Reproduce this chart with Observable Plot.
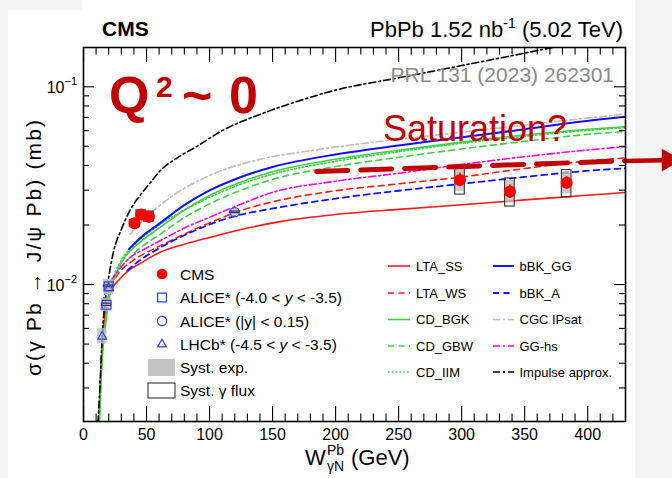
<!DOCTYPE html>
<html>
<head>
<meta charset="utf-8">
<script src="https://cdn.jsdelivr.net/npm/d3@7"></script>
<script src="https://cdn.jsdelivr.net/npm/@observablehq/plot@0.6"></script>
<style>
  html, body { margin: 0; padding: 0; background: #f4f4f4; }
  #page { position: relative; width: 672px; height: 478px; overflow: hidden; }
  .sheet { position: absolute; background: #ffffff; }
  #chart { position: absolute; left: 0; top: 0; }
</style>
</head>
<body>
<div id="page">
  <div class="sheet" style="left:8px;top:10px;width:627px;height:468px"></div>
  <div class="sheet" style="left:82px;top:0;width:553px;height:10px"></div>
  <div id="chart"></div>
</div>
<script>
const FONT = "'Liberation Sans', Arial, Helvetica, sans-serif";
const DARK_RED = "#c00000";

// ---- axis ticks ----
const xTickLabels = [0, 50, 100, 150, 200, 250, 300, 350, 400];
const xMinorTicks = [10,20,30,40,60,70,80,90,110,120,130,140,160,170,180,190,210,220,230,240,260,270,280,290,310,320,330,340,360,370,380,390,410,420];
const yTickLabels = [0.01, 0.1];
const yTickExponents = ["\u22122", "\u22121"];
const yMinorTicks = [0.003,0.004,0.005,0.006,0.007,0.008,0.009,0.02,0.03,0.04,0.05,0.06,0.07,0.08,0.09];

// ---- CMS measurement (sigma in mb) ----
const cmsW      = [40.5, 45.8, 51.9, 298.7, 338.3, 383.3];
const cmsSigma  = [0.0204, 0.0226, 0.0220, 0.0338, 0.0295, 0.0327];
const cmsStatLo = [0.0199, 0.0221, 0.0215, 0.0312, 0.0272, 0.0303];
const cmsStatHi = [0.0209, 0.0231, 0.0225, 0.0366, 0.0320, 0.0352];
const cmsExpLo  = [0.0192, 0.0213, 0.0207, 0.0296, 0.0258, 0.0287];
const cmsExpHi  = [0.0216, 0.0240, 0.0233, 0.0382, 0.0336, 0.0370];
const cmsFluxLo = [0.0196, 0.0215, 0.0208, 0.0285, 0.0248, 0.0276];
const cmsFluxHi = [0.0212, 0.0237, 0.0234, 0.0390, 0.0344, 0.0379];

// ---- ALICE forward, ALICE central, LHCb ----
const aliceFwdW = [18.3, 19.9];
const aliceFwdSigma = [0.0079, 0.0098];
const aliceFwdExpLo = [0.0073, 0.0090];
const aliceFwdExpHi = [0.0085, 0.0106];
const aliceFwdFluxLo = [0.0078, 0.0097];
const aliceFwdFluxHi = [0.0080, 0.0099];

const aliceCenW = [120.0];
const aliceCenSigma = [0.0232];
const aliceCenExpLo = [0.0222];
const aliceCenExpHi = [0.0242];
const aliceCenFluxLo = [0.0230];
const aliceCenFluxHi = [0.0234];

const lhcbW = [14.8, 20.1];
const lhcbSigma = [0.00546, 0.0096];
const lhcbExpLo = [0.0050, 0.0089];
const lhcbExpHi = [0.0060, 0.0104];

// ---- model curves: W (GeV) and sigma (mb) ----
const ltaSS_W = [12.2, 13.5, 16, 19, 23, 29, 36, 45, 61, 80, 100, 130, 156, 200, 250, 300, 350, 394, 430];
const ltaSS_s = [0.0020, 0.0034, 0.0062, 0.0082, 0.0096, 0.0107, 0.0118, 0.0128, 0.0146, 0.0160, 0.0173, 0.0193, 0.0208, 0.0226, 0.0240, 0.0253, 0.0268, 0.0281, 0.0292];

const ltaWS_W = [12.3, 14, 17, 21, 27, 37, 48, 60, 80, 100, 125, 150, 200, 250, 300, 350, 402, 430];
const ltaWS_s = [0.0020, 0.0038, 0.0068, 0.0093, 0.0112, 0.0129, 0.0143, 0.0156, 0.0180, 0.0205, 0.0237, 0.0262, 0.0298, 0.0323, 0.0350, 0.0386, 0.0423, 0.0437];

const cdBGK_W = [12.5, 14, 17.5, 21, 25, 32, 43, 61, 80, 100, 125, 150, 200, 250, 300, 350, 394, 430];
const cdBGK_s = [0.0020, 0.0035, 0.0063, 0.0090, 0.0110, 0.0135, 0.0160, 0.0195, 0.0238, 0.0282, 0.0330, 0.0372, 0.0430, 0.0478, 0.0525, 0.0570, 0.0605, 0.0628];

const cdGBW_W = [12.4, 14, 17.5, 21, 26, 35, 45, 61, 80, 100, 125, 150, 200, 250, 300, 350, 394, 430];
const cdGBW_s = [0.0020, 0.0036, 0.0066, 0.0092, 0.0112, 0.0133, 0.0153, 0.0180, 0.0218, 0.0256, 0.0300, 0.0340, 0.0395, 0.0440, 0.0485, 0.0530, 0.0570, 0.0594];

const cdIIM_W = [12.8, 14.5, 18, 22, 30, 40, 58, 80, 100, 125, 150, 200, 250, 300, 350, 394, 430];
const cdIIM_s = [0.0020, 0.0038, 0.0068, 0.0098, 0.0132, 0.0158, 0.0196, 0.0238, 0.0276, 0.0322, 0.0362, 0.0420, 0.0470, 0.0518, 0.0562, 0.0598, 0.0622];

const bbkGG_W = [36, 45, 61, 80, 100, 125, 150, 200, 250, 300, 350, 394, 430];
const bbkGG_s = [0.0151, 0.0172, 0.0205, 0.0252, 0.0299, 0.0350, 0.0393, 0.0455, 0.0505, 0.0555, 0.0610, 0.0665, 0.0705];

const bbkA_W = [34.7, 45, 61, 88, 120, 148, 200, 250, 300, 350, 402, 430];
const bbkA_s = [0.0118, 0.0133, 0.0154, 0.0187, 0.0222, 0.0241, 0.0272, 0.0298, 0.0323, 0.0350, 0.0377, 0.0387];

const cgc_W = [37, 45, 69, 100, 140, 180, 220, 275, 340, 394, 430];
const cgc_s = [0.0180, 0.0205, 0.0276, 0.0356, 0.0430, 0.0475, 0.0515, 0.0565, 0.0630, 0.0688, 0.0728];

const gghs_W = [14, 17, 20, 25, 37, 50, 61, 80, 100, 125, 148, 200, 254, 300, 350, 394, 430];
const gghs_s = [0.0075, 0.0090, 0.0100, 0.0112, 0.0137, 0.0153, 0.0167, 0.0193, 0.0219, 0.0255, 0.0290, 0.0333, 0.0368, 0.0405, 0.0443, 0.0475, 0.0498];

const impulse_W = [11.5, 13, 15, 17.5, 20.5, 24, 30, 37, 45, 53, 61, 75, 90, 110, 140, 170, 200, 250, 300, 350, 380];
const impulse_s = [0.0020, 0.0030, 0.0057, 0.0085, 0.0114, 0.0148, 0.0190, 0.0238, 0.0283, 0.0327, 0.0377, 0.0440, 0.0500, 0.0600, 0.0725, 0.0845, 0.0962, 0.1110, 0.1280, 0.1480, 0.1620];

// ---- "Saturation?" trend annotation ----
const satW = [185, 430];
const satSigma = [0.0373, 0.0422];
const satArrowW = [430, 459];
const satArrowSigma = [0.0422, 0.0425];
const satHeadW = [464];
const satHeadSigma = [0.0426];

// ---- build tables ----
const pts = (Ws, Ss) => Ws.map((W, i) => ({W, s: Ss[i]}));
const rows = (Ws, S, lo, hi, flo, fhi, slo, shi) => Ws.map((W, i) => ({
  W, s: S[i], expLo: lo[i], expHi: hi[i],
  fluxLo: flo ? flo[i] : null, fluxHi: fhi ? fhi[i] : null,
  statLo: slo ? slo[i] : null, statHi: shi ? shi[i] : null
}));
const cms = rows(cmsW, cmsSigma, cmsExpLo, cmsExpHi, cmsFluxLo, cmsFluxHi, cmsStatLo, cmsStatHi);
const aliceFwd = rows(aliceFwdW, aliceFwdSigma, aliceFwdExpLo, aliceFwdExpHi, aliceFwdFluxLo, aliceFwdFluxHi);
const aliceCen = rows(aliceCenW, aliceCenSigma, aliceCenExpLo, aliceCenExpHi, aliceCenFluxLo, aliceCenFluxHi);
const lhcb = rows(lhcbW, lhcbSigma, lhcbExpLo, lhcbExpHi);

const DASH = "6,4.5", DOT = "1.6,2.2", DASHDOT = "7,3,2,3";
const models = [
  {name: "LTA_SS",  W: ltaSS_W, s: ltaSS_s, stroke: "#ff1a1a", dash: null, sw: 1.6},
  {name: "LTA_WS",  W: ltaWS_W, s: ltaWS_s, stroke: "#ff1a1a", dash: DASH, sw: 1.6},
  {name: "CD_BGK",  W: cdBGK_W, s: cdBGK_s, stroke: "#3fcf3f", dash: null, sw: 1.6},
  {name: "CD_GBW",  W: cdGBW_W, s: cdGBW_s, stroke: "#3fcf3f", dash: DASH, sw: 1.6},
  {name: "CD_IIM",  W: cdIIM_W, s: cdIIM_s, stroke: "#3fcf3f", dash: DOT, sw: 1.6},
  {name: "bBK_GG",  W: bbkGG_W, s: bbkGG_s, stroke: "#1010ff", dash: null, sw: 2},
  {name: "bBK_A",   W: bbkA_W,  s: bbkA_s,  stroke: "#1010ff", dash: DASH, sw: 1.8},
  {name: "CGC IPsat", W: cgc_W, s: cgc_s, stroke: "#c9bcb4", dash: DASHDOT, sw: 1.7},
  {name: "GG-hs",   W: gghs_W,  s: gghs_s,  stroke: "#ff00ff", dash: DASHDOT, sw: 1.6},
  {name: "Impulse approx.", W: impulse_W, s: impulse_s, stroke: "#000000", dash: DASHDOT, sw: 1.6}
];

const M = {top: 47, right: 47, bottom: 57, left: 83};
const WIDTH = 672, HEIGHT = 478;
const innerH = HEIGHT - M.top - M.bottom;
const innerW = WIDTH - M.left - M.right;
const boxHalf = 3.8; // half width of uncertainty boxes, GeV

const plot = Plot.plot({
  width: WIDTH, height: HEIGHT,
  marginTop: M.top, marginRight: M.right, marginBottom: M.bottom, marginLeft: M.left,
  style: {background: "transparent", overflow: "visible", fontFamily: FONT},
  x: {domain: [0, 430], axis: null},
  y: {type: "log", domain: [0.00203, 0.158], axis: null},
  marks: [
    ...models.map(m => Plot.line(pts(m.W, m.s), {
      x: "W", y: "s", stroke: m.stroke, strokeWidth: m.sw,
      strokeDasharray: m.dash, curve: "monotone-x", clip: true
    })),
    // experimental systematic boxes
    Plot.rect([...lhcb, ...aliceFwd, ...aliceCen, ...cms], {
      x1: d => d.W - boxHalf, x2: d => d.W + boxHalf, y1: "expLo", y2: "expHi",
      fill: "#bdbdbd", fillOpacity: 0.8
    }),
    // photon flux systematic boxes
    Plot.rect([...aliceFwd, ...aliceCen, ...cms], {
      x1: d => d.W - boxHalf, x2: d => d.W + boxHalf, y1: "fluxLo", y2: "fluxHi",
      fill: "none", stroke: "#333333", strokeWidth: 1.1
    }),
    Plot.ruleX(cms, {x: "W", y1: "statLo", y2: "statHi", stroke: "#ff0000", strokeWidth: 1.5}),
    Plot.dot(aliceFwd, {x: "W", y: "s", symbol: "square", r: 5, fill: "none", stroke: "#2a40ff", strokeWidth: 1.2}),
    Plot.dot(aliceCen, {x: "W", y: "s", symbol: "circle", r: 4.6, fill: "none", stroke: "#2a40ff", strokeWidth: 1.2}),
    Plot.dot(lhcb, {x: "W", y: "s", symbol: "triangle2", r: 4.2, fill: "none", stroke: "#2a40ff", strokeWidth: 1.2}),
    Plot.dot(cms, {x: "W", y: "s", r: 5.3, fill: "#ff0000", stroke: "#ff0000"}),
    // saturation trend
    Plot.line(pts(satW, satSigma), {x: "W", y: "s", stroke: DARK_RED, strokeWidth: 5, strokeDasharray: "31,13"}),
    Plot.line(pts(satArrowW, satArrowSigma), {x: "W", y: "s", stroke: DARK_RED, strokeWidth: 4.5}),
    Plot.dot(pts(satHeadW, satHeadSigma), {x: "W", y: "s", symbol: "triangle", rotate: 90, r: 8.5, fill: DARK_RED}),
    // frame ticks (ROOT style, pointing inwards, on all four sides)
    Plot.tickX(xTickLabels, {x: d => d, insetTop: innerH - 15, stroke: "black", strokeWidth: 1.1}),
    Plot.tickX(xTickLabels, {x: d => d, insetBottom: innerH - 15, stroke: "black", strokeWidth: 1.1}),
    Plot.tickX(xMinorTicks, {x: d => d, insetTop: innerH - 7.5, stroke: "black", strokeWidth: 1.1}),
    Plot.tickX(xMinorTicks, {x: d => d, insetBottom: innerH - 7.5, stroke: "black", strokeWidth: 1.1}),
    Plot.tickY(yTickLabels, {y: d => d, insetRight: innerW - 11, stroke: "black", strokeWidth: 1.1}),
    Plot.tickY(yTickLabels, {y: d => d, insetLeft: innerW - 11, stroke: "black", strokeWidth: 1.1}),
    Plot.tickY(yMinorTicks, {y: d => d, insetRight: innerW - 6, stroke: "black", strokeWidth: 1.1}),
    Plot.tickY(yMinorTicks, {y: d => d, insetLeft: innerW - 6, stroke: "black", strokeWidth: 1.1}),
    Plot.frame({stroke: "black", strokeWidth: 1.6}),
    Plot.text(xTickLabels, {
      x: d => d, text: d => String(d), frameAnchor: "bottom", dy: 7,
      lineAnchor: "top", fontSize: 16, fill: "black"
    })
  ]
});
document.getElementById("chart").appendChild(plot);

// ---- text, legends and labels drawn on top ----
const svg = d3.select(plot);
const g = svg.append("g").attr("font-family", FONT).attr("fill", "black").attr("text-anchor", "start");
const ys = plot.scale("y");

function addText(x, y, str, opt = {}) {
  return g.append("text").attr("x", x).attr("y", y)
    .attr("font-size", opt.size || 16)
    .attr("font-weight", opt.weight || null)
    .attr("fill", opt.fill || "black")
    .attr("text-anchor", opt.anchor || "start")
    .text(str);
}

// y tick labels 10^-2, 10^-1
yTickLabels.forEach((v, i) => {
  const py = ys.apply(v);
  const t = g.append("text").attr("x", 77).attr("y", py + 7).attr("text-anchor", "end").attr("font-size", 16);
  t.append("tspan").text("10");
  t.append("tspan").attr("font-size", 11).attr("dy", -8).text(yTickExponents[i]);
});

// axis titles
{
  g.append("text").attr("transform", "translate(41,248) rotate(-90)")
    .attr("text-anchor", "middle").attr("font-size", 21)
    .attr("textLength", 256).attr("lengthAdjust", "spacing")
    .text("\u03c3(\u03b3 Pb \u2192 J/\u03c8 Pb) (mb)");
  const bx = 305, by = 465;
  addText(bx, by, "W", {size: 22});
  addText(bx + 22, by - 10, "Pb", {size: 14});
  addText(bx + 22, by + 6, "\u03b3N", {size: 14});
  addText(bx + 46, by, "(GeV)", {size: 22});
}

// header
addText(102, 36, "CMS", {size: 21, weight: "bold"});
{
  const t = g.append("text").attr("x", 623).attr("y", 37).attr("text-anchor", "end").attr("font-size", 22);
  t.append("tspan").text("PbPb 1.52 nb");
  t.append("tspan").attr("font-size", 14).attr("dy", -9).text("-1");
  t.append("tspan").attr("dy", 9).text(" (5.02 TeV)");
}
addText(614, 82, "PRL 131 (2023) 262301", {size: 21, fill: "#8a8a8a", anchor: "end"});

// Q^2 ~ 0 and Saturation? annotations
{
  const t = g.append("text").attr("y", 113).attr("font-size", 52).attr("font-weight", "bold").attr("fill", DARK_RED);
  t.append("tspan").attr("x", 109).text("Q");
  t.append("tspan").attr("x", 156).attr("y", 97).attr("font-size", 30).text("2");
  t.append("tspan").attr("x", 182).attr("y", 113).text("~");
  t.append("tspan").attr("x", 229).attr("y", 113).text("0");
}
addText(383, 141, "Saturation?", {size: 36, fill: DARK_RED});

// left legend: data sets
{
  const sx = 162, tx = 180, fs = 15.5;
  const rowsY = [274, 297.5, 321, 344.3, 367.5, 390.5];
  g.append("circle").attr("cx", sx).attr("cy", rowsY[0]).attr("r", 5.3).attr("fill", "#ff0000");
  g.append("path").attr("transform", `translate(${sx},${rowsY[1]})`)
    .attr("d", d3.symbol(d3.symbolSquare, 25 * Math.PI)()).attr("fill", "none").attr("stroke", "#2a40ff").attr("stroke-width", 1.2);
  g.append("circle").attr("cx", sx).attr("cy", rowsY[2]).attr("r", 4.6).attr("fill", "none").attr("stroke", "#2a40ff").attr("stroke-width", 1.2);
  g.append("path").attr("transform", `translate(${sx},${rowsY[3]})`)
    .attr("d", d3.symbol(d3.symbolTriangle2, 4.2 * 4.2 * Math.PI)()).attr("fill", "none").attr("stroke", "#2a40ff").attr("stroke-width", 1.2);
  g.append("rect").attr("x", 148).attr("y", rowsY[4] - 8.5).attr("width", 27).attr("height", 17).attr("fill", "#c4c4c4");
  g.append("rect").attr("x", 148).attr("y", rowsY[5] - 7.5).attr("width", 27).attr("height", 15).attr("fill", "none").attr("stroke", "#333").attr("stroke-width", 1.1);
  const lab = (i) => g.append("text").attr("x", tx).attr("y", rowsY[i] + 5.5).attr("font-size", fs);
  lab(0).text("CMS");
  {
    const t = lab(1); t.append("tspan").text("ALICE* (-4.0 < ");
    t.append("tspan").attr("font-style", "italic").text("y");
    t.append("tspan").text(" < -3.5)");
  }
  lab(2).text("ALICE* (|y| < 0.15)");
  {
    const t = lab(3); t.append("tspan").text("LHCb* (-4.5 < ");
    t.append("tspan").attr("font-style", "italic").text("y");
    t.append("tspan").text(" < -3.5)");
  }
  lab(4).text("Syst. exp.");
  lab(5).text("Syst. \u03b3 flux");
}

// right legend: model curves, two columns
{
  const rowsY = [266, 293, 319.5, 346, 372];
  const cols = [{x0: 388, x1: 410, tx: 416}, {x0: 493, x1: 514, tx: 519.5}];
  models.forEach((m, i) => {
    const c = cols[Math.floor(i / 5)], y = rowsY[i % 5];
    g.append("line").attr("x1", c.x0).attr("x2", c.x1).attr("y1", y).attr("y2", y)
      .attr("stroke", m.stroke).attr("stroke-width", m.sw).attr("stroke-dasharray", m.dash);
    g.append("text").attr("x", c.tx).attr("y", y + 4.5).attr("font-size", 13).text(m.name);
  });
}
</script>
</body>
</html>
